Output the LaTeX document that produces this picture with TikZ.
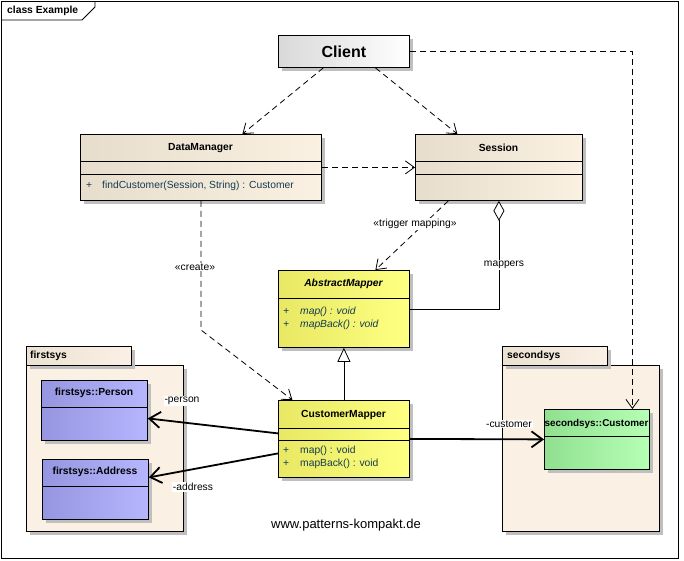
\documentclass[tikz,border=0pt]{standalone}
\usepackage{fontspec}
\setmainfont{Liberation Sans}
\usetikzlibrary{arrows.meta,shadows}
\definecolor{tanL}{RGB}{230,221,204}
\definecolor{tanR}{RGB}{251,241,226}
\definecolor{yelL}{RGB}{232,232,100}
\definecolor{yelR}{RGB}{255,255,130}
\definecolor{bluL}{RGB}{150,150,224}
\definecolor{bluR}{RGB}{182,182,255}
\definecolor{grnL}{RGB}{144,224,144}
\definecolor{grnR}{RGB}{182,255,182}
\definecolor{pkgFill}{RGB}{250,240,228}
\definecolor{pkgTab}{RGB}{236,226,210}
\definecolor{opText}{RGB}{20,60,80}
\begin{document}
\begin{tikzpicture}[x=1pt, y=-1pt,
    font=\fontsize{10.3}{12}\selectfont,
    cls/.style={rectangle, draw, anchor=north west, inner sep=0pt, line width=0.8pt,
        drop shadow={shadow xshift=4pt, shadow yshift=-4pt, fill=black!25, opacity=1}},
    tan/.style={cls, left color=tanL, right color=tanR},
    yel/.style={cls, left color=yelL, right color=yelR},
    blu/.style={cls, left color=bluL, right color=bluR},
    grn/.style={cls, left color=grnL, right color=grnR},
    pkg/.style={cls, fill=pkgFill},
    tab/.style={cls, left color=pkgTab, right color=pkgFill},
    title/.style={font=\fontsize{10.3}{12}\selectfont\bfseries},
    op/.style={anchor=west, inner sep=0pt, text=opText},
    dep/.style={-{Straight Barb[length=9pt, width=13pt]}, line width=0.8pt, dash pattern=on 6pt off 4pt},
    link/.style={-{Straight Barb[length=11pt, width=16pt]}, line width=1.8pt},
    gen/.style={-{Triangle[open, length=14pt, width=13pt, fill=white]}, line width=0.8pt},
    agg/.style={{Diamond[open, length=20pt, width=11pt, fill=white]}-, line width=0.8pt},
    lbl/.style={fill=white, inner sep=1pt}
]
\useasboundingbox (0,0) rectangle (684,560);
\fill[white] (0,0) rectangle (684,560);
\draw[line width=0.8pt] (1,1) rectangle (678,558);
\draw[line width=0.8pt] (1,20) -- (82,20) -- (95,7) -- (95,1);
\node[title, anchor=west, inner sep=0pt] (frame) at (7,11) {class Example};

\node[pkg, minimum width=157pt, minimum height=166pt] (first) at (26,365) {};
\node[tab, minimum width=105pt, minimum height=19pt] (firsttab) at (26,346) {};
\node[title, anchor=west, inner sep=0pt] (firstname) at (30,356) {firstsys};
\node[pkg, minimum width=157pt, minimum height=166pt] (second) at (502,365) {};
\node[tab, minimum width=105pt, minimum height=19pt] (secondtab) at (502,346) {};
\node[title, anchor=west, inner sep=0pt] (secondname) at (507,356) {secondsys};

\node[cls, left color=black!15, right color=white, minimum width=131pt, minimum height=32pt,
    font=\fontsize{16}{18}\selectfont\bfseries] (client) at (278,35) {Client};

\node[tan, minimum width=241pt, minimum height=66pt] (dm) at (80,134) {};
\draw[line width=0.8pt] (80,161) -- (321,161) (80,174) -- (321,174);
\node[title] (dmname) at (200.5,148) {DataManager};
\node[op] (dmop) at (86,186) {\makebox[16pt][l]{+}findCustomer(Session, String) : Customer};

\node[tan, minimum width=167pt, minimum height=66pt] (session) at (415,134) {};
\draw[line width=0.8pt] (415,161) -- (582,161) (415,174) -- (582,174);
\node[title] (sessionname) at (498.5,148) {Session};

\node[yel, minimum width=131pt, minimum height=77pt] (am) at (278,270) {};
\draw[line width=0.8pt] (278,298) -- (409,298);
\node[title, font=\fontsize{10.3}{12}\selectfont\bfseries\itshape] (amname) at (343.5,284) {AbstractMapper};
\node[op, font=\fontsize{10.3}{12}\selectfont\itshape] (amop1) at (283,312) {\makebox[17pt][l]{+}map() : void};
\node[op, font=\fontsize{10.3}{12}\selectfont\itshape] (amop2) at (283,325) {\makebox[17pt][l]{+}mapBack() : void};

\node[yel, minimum width=131pt, minimum height=77pt] (cm) at (278,400) {};
\draw[line width=0.8pt] (278,428) -- (409,428) (278,440) -- (409,440);
\node[title] (cmname) at (343.5,415) {CustomerMapper};
\node[op] (cmop1) at (283,451) {\makebox[17pt][l]{+}map() : void};
\node[op] (cmop2) at (283,464) {\makebox[17pt][l]{+}mapBack() : void};

\node[blu, minimum width=106pt, minimum height=60pt] (person) at (41,380) {};
\draw[line width=0.8pt] (41,407) -- (147,407);
\node[title] (personname) at (94,393) {firstsys::Person};

\node[blu, minimum width=106pt, minimum height=60pt] (address) at (42,459) {};
\draw[line width=0.8pt] (42,486) -- (148,486);
\node[title] (addressname) at (95,472) {firstsys::Address};

\node[grn, minimum width=105pt, minimum height=60pt] (cust) at (544,409) {};
\draw[line width=0.8pt] (544,436) -- (649,436);
\node[title, font=\fontsize{9.9}{12}\selectfont\bfseries, inner sep=0pt] (custname) at (596.5,424) {secondsys::Customer};

\coordinate (bend) at (201,330);

\draw[dep] ([xshift=-20.5pt]client.south) -- ([xshift=41.5pt]dm.north);
\draw[dep] ([xshift=31.5pt]client.south) -- ([xshift=-41.5pt]session.north);
\draw[dep] (client.east) -| ([xshift=35.5pt]cust.north);
\draw[dep] (dm.east) -- (session.west);
\draw[dep] ([xshift=-50.5pt]session.south) -- ([xshift=31.5pt]am.north);
\draw[agg] (session.south) |- (am.east);
\draw[gen] (cm.north) -- (am.south);
\draw[dep] (dm.south) -- (bend) -- ([xshift=-51.5pt]cm.north);
\draw[link] ([yshift=5.5pt]cm.west) -- ([yshift=-8pt]person.east);
\draw[link] ([yshift=-14.5pt]cm.west) -- ([yshift=12pt]address.east);
\draw[link] (cm.east) -- (cust.west);

\node[lbl] (trigger) at (415,224) {«trigger mapping»};
\node[lbl] (mappers) at (504,265) {mappers};
\node[lbl] (create) at (195,267) {«create»};
\node[lbl] (personlbl) at (182,401) {-person};
\node[lbl] (addresslbl) at (193,487) {-address};
\node[lbl] (custlbl) at (509,424) {-customer};

\node[font=\fontsize{13}{15}\selectfont] (site) at (346,525) {www.patterns-kompakt.de};
\end{tikzpicture}
\end{document}
